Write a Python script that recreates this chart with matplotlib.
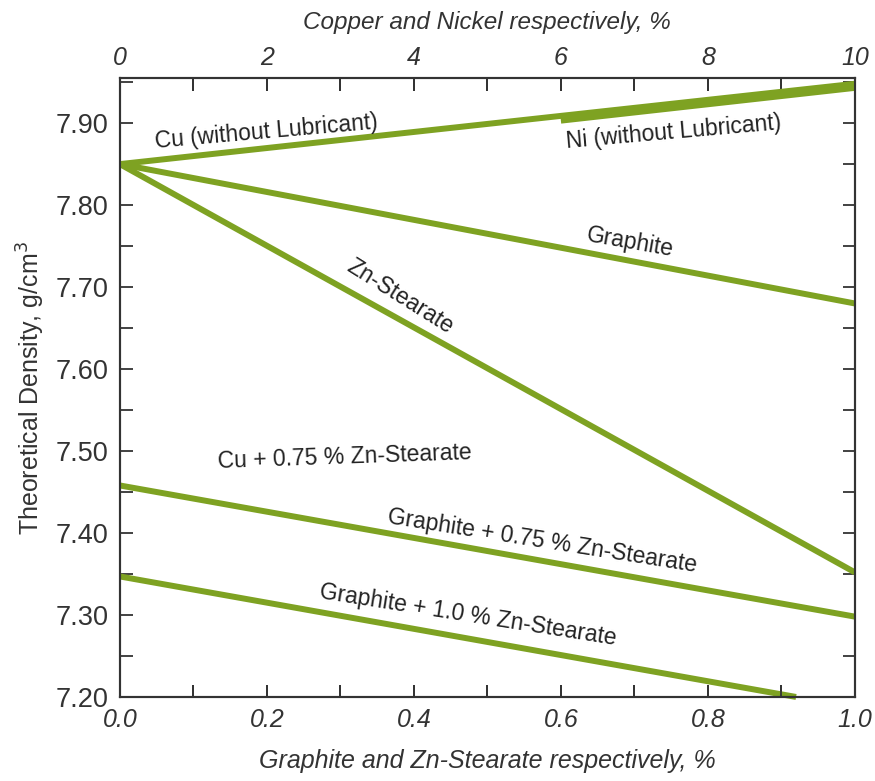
import matplotlib
matplotlib.use('Agg')
import matplotlib.pyplot as plt
from matplotlib.ticker import MultipleLocator

# density vs. additive content (bottom axis: graphite / Zn-stearate, top axis: Cu / Ni)
lube_x = [0.0, 1.0]
graphite_y = [7.85, 7.68]
zn_stearate_y = [7.85, 7.352]
gr_075zn_y = [7.458, 7.298]
gr_10zn_x = [0.0, 0.92]
gr_10zn_y = [7.347, 7.20]

cu_x = [0, 10]
cu_y = [7.85, 7.948]
ni_x = [6, 10]
ni_y = [7.903, 7.943]

GREEN = '#7ea222'
DARK = '#333333'
font = ['Liberation Sans', 'DejaVu Sans']
LW = 4.3

fig = plt.figure(figsize=(8.75, 7.81), dpi=100)
ax = fig.add_axes([0.137, 0.1076, 0.84, 0.7925])

ax.plot(lube_x, graphite_y, color=GREEN, lw=LW, solid_capstyle='butt')
ax.plot(lube_x, zn_stearate_y, color=GREEN, lw=LW, solid_capstyle='butt')
ax.plot(lube_x, gr_075zn_y, color=GREEN, lw=LW, solid_capstyle='butt')
ax.plot(gr_10zn_x, gr_10zn_y, color=GREEN, lw=LW, solid_capstyle='butt', clip_on=False)

ax.set_xlim(0, 1.0)
ax.set_ylim(7.20, 7.955)
ax.xaxis.set_major_locator(MultipleLocator(0.2))
ax.xaxis.set_minor_locator(MultipleLocator(0.1))
ax.yaxis.set_major_locator(MultipleLocator(0.1))
ax.yaxis.set_minor_locator(MultipleLocator(0.05))
ax.set_xticklabels([f'{v:.1f}' for v in ax.get_xticks()])
ax.set_yticklabels([f'{v:.2f}' for v in ax.get_yticks()])

top = ax.twiny()
top.plot(cu_x, cu_y, color=GREEN, lw=LW, solid_capstyle='butt')
top.plot(ni_x, ni_y, color=GREEN, lw=LW, solid_capstyle='butt')
top.set_xlim(0, 10)
top.xaxis.set_major_locator(MultipleLocator(2))
top.xaxis.set_minor_locator(MultipleLocator(1))

for a in (ax, top):
    for s in a.spines.values():
        s.set_color(DARK)
        s.set_linewidth(1.5)
    a.tick_params(which='both', direction='in', color=DARK, width=1.3, length=9,
                  top=True, right=True, bottom=True, left=True)

ax.tick_params(axis='x', labeltop=False, pad=8)
ax.tick_params(axis='y', pad=8)
top.tick_params(axis='x', labelbottom=False, labeltop=True, pad=6)
top.tick_params(axis='y', labelleft=False, labelright=False)

for lbl in ax.get_xticklabels() + top.get_xticklabels():
    lbl.set_fontfamily(font)
    lbl.set_fontstyle('italic')
    lbl.set_fontsize(18)
    lbl.set_color(DARK)
for lbl in ax.get_yticklabels():
    lbl.set_fontfamily(font)
    lbl.set_fontsize(19.5)
    lbl.set_color(DARK)

ax.set_xlabel('Graphite and Zn-Stearate respectively, %', family=font,
              style='italic', fontsize=18, color=DARK, labelpad=12)
top.set_xlabel('Copper and Nickel respectively, %', family=font,
               style='italic', fontsize=17.5, color=DARK, labelpad=12)
ax.set_ylabel('Theoretical Density, g/cm$^3$', family=font, fontsize=18,
              color=DARK, labelpad=6)

txt = dict(family=font, fontsize=16.5, color='#222222', ha='center',
           va='center', rotation_mode='anchor')
top.text(2.0, 7.889, 'Cu (without Lubricant)', rotation=5, **txt)
top.text(7.54, 7.889, 'Ni (without Lubricant)', rotation=5, **txt)
ax.text(0.694, 7.755, 'Graphite', rotation=-10, **txt)
ax.text(0.381, 7.688, 'Zn-Stearate', rotation=-32, **txt)
ax.text(0.306, 7.493, 'Cu + 0.75 % Zn-Stearate', rotation=2, **txt)
ax.text(0.574, 7.390, 'Graphite + 0.75 % Zn-Stearate', rotation=-9, **txt)
ax.text(0.473, 7.300, 'Graphite + 1.0 % Zn-Stearate', rotation=-9, **txt)

plt.savefig('out.png', dpi=100)
plt.close()
